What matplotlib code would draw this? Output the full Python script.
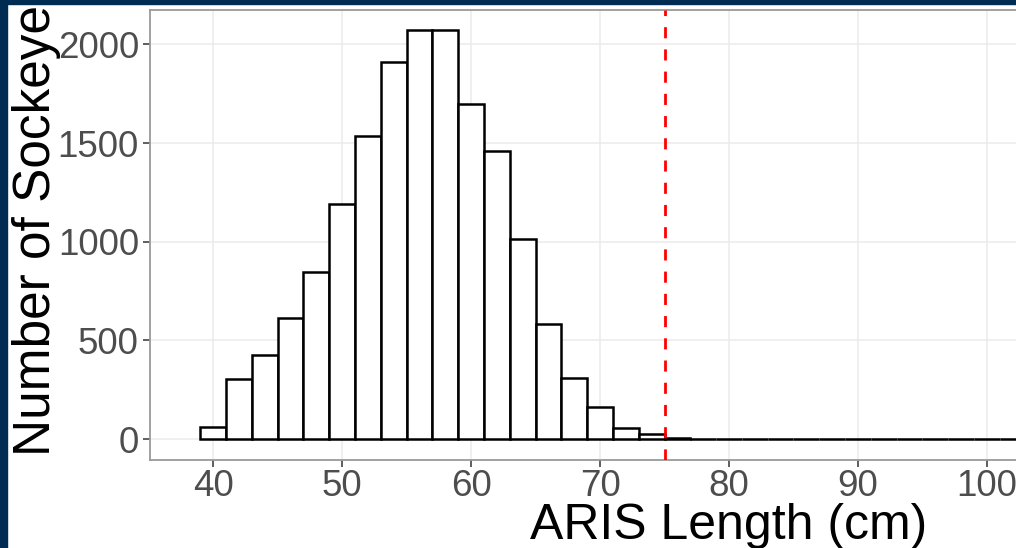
import matplotlib
matplotlib.use('Agg')
import matplotlib.pyplot as plt
import numpy as np
from matplotlib.patches import Rectangle

# histogram of ARIS lengths, binwidth 2 cm
bin_left = [39, 41, 43, 45, 47, 49, 51, 53, 55, 57, 59, 61, 63, 65, 67, 69, 71, 73, 75]
counts = [60, 304, 427, 613, 849, 1193, 1534, 1909, 2071, 2071, 1700, 1462, 1013, 582, 310, 165, 57, 25, 7]
# empty bins out to the largest fish
empty_left = list(range(77, 123, 2))
cutoff = 75
x_ticks = [40, 50, 60, 70, 80, 90, 100, 110, 120]
y_ticks = [0, 500, 1000, 1500, 2000]

plt.rcParams['font.family'] = ['Liberation Sans', 'DejaVu Sans']

W, H = 1016, 548
fig = plt.figure(figsize=(W / 100, H / 100), dpi=100)
fig.patch.set_facecolor('white')

# navy slide frame on the top and left edges
navy = '#002b52'
fig.patches.append(Rectangle((0, 0), 7 / W, 1, transform=fig.transFigure, color=navy, zorder=0))
fig.patches.append(Rectangle((0, 1 - 3.5 / H), 1, 3.5 / H, transform=fig.transFigure, color=navy, zorder=0))

# panel runs past the right edge (the original picture is cropped)
left, right = 150, 1308
top, bottom = 10, 459.5
ax = fig.add_axes([left / W, 1 - bottom / H, (right - left) / W, (bottom - top) / H])

ax.bar(bin_left, counts, width=2, align='edge', facecolor='white', edgecolor='black', linewidth=1.8, zorder=2)
ax.bar(empty_left, [0] * len(empty_left), width=2, align='edge', facecolor='white', edgecolor='black', linewidth=1.8, zorder=2)
ax.axvline(cutoff, color='#ff0000', linestyle=(0, (4, 4)), linewidth=2, zorder=3)

ax.set_xlim(35.1, 124.9)
ax.set_ylim(-103.5, 2174.6)
ax.set_xticks(x_ticks)
ax.set_yticks(y_ticks)
ax.grid(True, color='#ebebeb', linewidth=1.1, zorder=0)
ax.set_axisbelow(True)
for s in ax.spines.values():
    s.set_color('#9a9a9a')
    s.set_linewidth(1.3)

ax.tick_params(axis='both', colors='#333333', labelcolor='#4d4d4d', labelsize=26.5, length=5, width=1.1)
ax.tick_params(axis='y', pad=3)
ax.tick_params(axis='x', pad=2)

ax.set_xlabel('ARIS Length (cm)', fontsize=36, color='black', labelpad=-1)
ax.set_ylabel('Number of Sockeye', fontsize=37, color='black')
ax.yaxis.set_label_coords((61 - left) / (right - left), 0.51)

fig.savefig('out.png', dpi=100)
